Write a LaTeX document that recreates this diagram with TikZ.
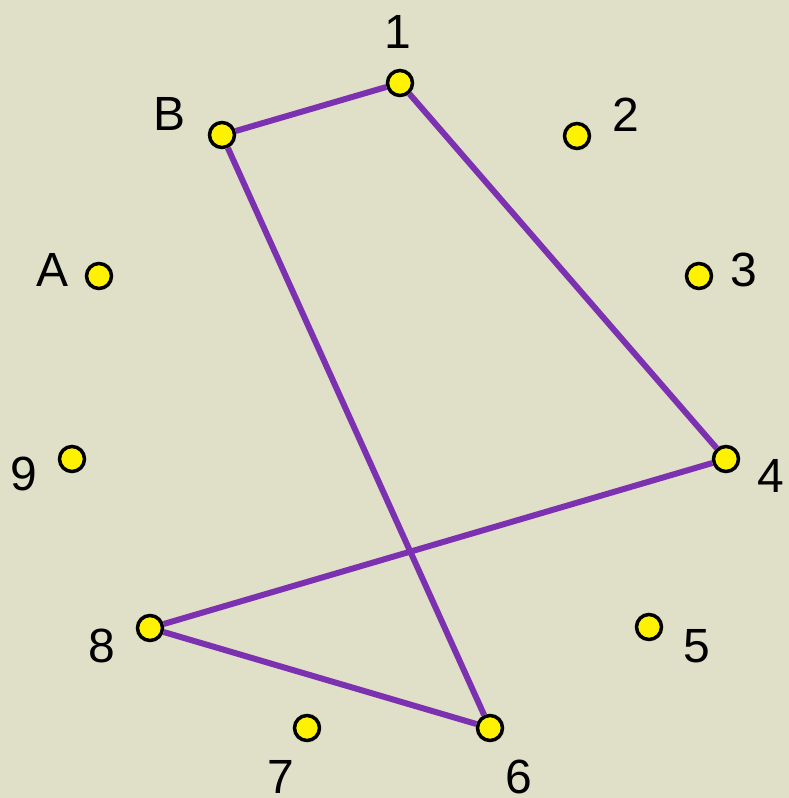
\documentclass[tikz,border=0pt]{standalone}
\usepackage{fontspec}
\setmainfont{Liberation Sans}
\definecolor{bg}{RGB}{224,224,201}
\definecolor{edgepurple}{RGB}{124,50,176}
\begin{document}
\begin{tikzpicture}[x=1pt,y=-1pt,
  pt/.style={circle,draw=black,line width=3.5pt,fill=yellow,minimum size=25pt,inner sep=0pt},
  lbl/.style={anchor=base,font=\fontsize{48}{48}\selectfont,inner sep=0pt},
  edge/.style={draw=edgepurple,line width=6pt}]
\fill[bg] (0,0) rectangle (789,798);
\useasboundingbox (0,0) rectangle (789,798);
\node[pt] (n1) at (400,83) {};
\node[pt] (n2) at (577,136) {};
\node[pt] (n3) at (699,276) {};
\node[pt] (n4) at (726,459) {};
\node[pt] (n5) at (649,627) {};
\node[pt] (n6) at (490,728) {};
\node[pt] (n7) at (307,728) {};
\node[pt] (n8) at (150,628) {};
\node[pt] (n9) at (72,459) {};
\node[pt] (nA) at (99,276) {};
\node[pt] (nB) at (222,135) {};
\node[lbl] (l1) at (398,48) {1};
\node[lbl] (l2) at (626,131) {2};
\node[lbl] (l3) at (744,286) {3};
\node[lbl] (l4) at (771,492) {4};
\node[lbl] (l5) at (697,662) {5};
\node[lbl] (l6) at (519,793) {6};
\node[lbl] (l7) at (281,793) {7};
\node[lbl] (l8) at (102,662) {8};
\node[lbl] (l9) at (24,490) {9};
\node[lbl] (lA) at (53,286) {A};
\node[lbl] (lB) at (170,130) {B};
\draw[edge] (nB) -- (n1);
\draw[edge] (n1) -- (n4);
\draw[edge] (n4) -- (n8);
\draw[edge] (n8) -- (n6);
\draw[edge] (n6) -- (nB);
\end{tikzpicture}
\end{document}
